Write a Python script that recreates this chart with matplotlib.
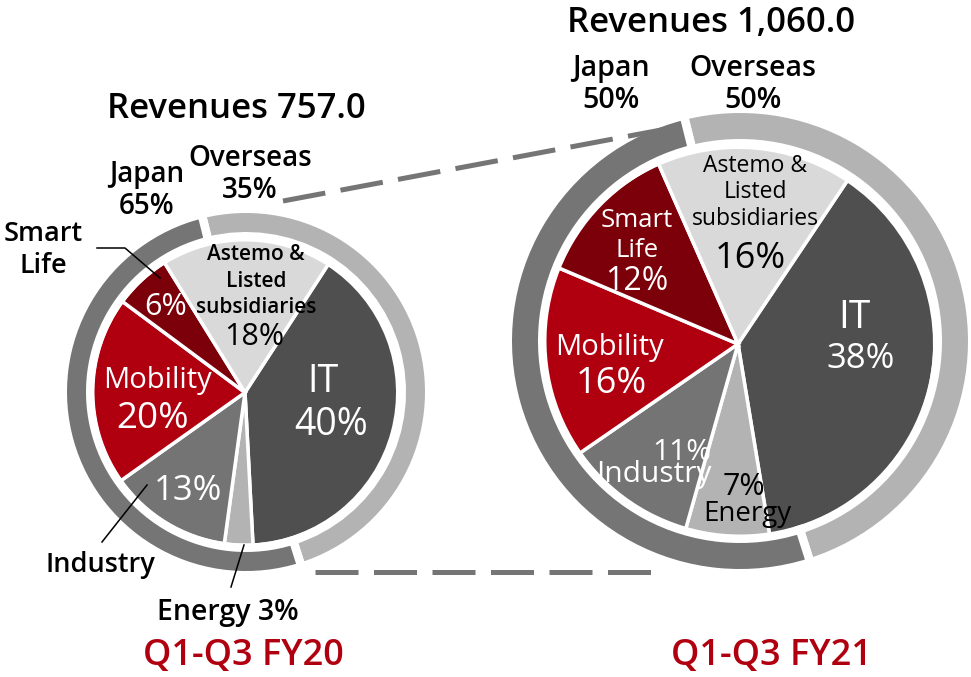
import matplotlib
matplotlib.use("Agg")
import matplotlib.pyplot as plt

# ---------------- data ----------------
segments = ["IT", "Energy", "Industry", "Mobility", "Smart Life", "Astemo & Listed subsidiaries"]
fy20_share = [40, 3, 13, 20, 6, 18]
fy21_share = [38, 7, 11, 16, 12, 16]
fy20_revenue = "757.0"
fy21_revenue = "1,060.0"
region_labels = ["Overseas", "Japan"]
fy20_region = [35, 65]
fy21_region = [50, 50]
# arcs of the outer ring as drawn in the picture (not proportional)
fy20_ring_drawn = [49, 51]
fy21_ring_drawn = [49, 51]
period_labels = ["Q1-Q3 FY20", "Q1-Q3 FY21"]

seg_colors = ["#4f4f4f", "#b3b3b3", "#747474", "#b0000f", "#7b0009", "#d9d9d9"]
ring_colors = ["#b3b3b3", "#757575"]
RED = "#b0000f"
FONT = "Open Sans"

W, H = 971, 677
fig = plt.figure(figsize=(W / 100, H / 100), dpi=100)
ax = fig.add_axes([0, 0, 1, 1])


def Y(y):
    return H - y


PX = 72 / 100  # points per pixel


def draw_chart(shares, ring, pie_c, pie_r, ring_c, ring_out, ring_in, start_deg):
    sep = 3.5  # px white separator
    ax.pie(shares, colors=seg_colors, center=(pie_c[0], Y(pie_c[1])),
           radius=pie_r + sep / 2, startangle=90 - start_deg, counterclock=False,
           wedgeprops=dict(edgecolor="white", linewidth=sep * PX), frame=True)
    gap = 8.5
    ax.pie(ring, colors=ring_colors, center=(ring_c[0], Y(ring_c[1])),
           radius=ring_out + gap / 2, startangle=104, counterclock=False,
           wedgeprops=dict(width=(ring_out - ring_in) + gap, edgecolor="white",
                           linewidth=gap * PX), frame=True)


draw_chart(fy20_share, fy20_ring_drawn, (245, 392.5), 151, (246, 392), 179, 160, 33)
draw_chart(fy21_share, fy21_ring_drawn, (738, 344), 195, (740, 341), 228, 202, 33.8)


def txt(x, y, s, size, color="black", weight="semibold", ls=1.2, ma="center"):
    ax.text(x, Y(y), s, ha="center", va="baseline", fontsize=size, color=color,
            family=[FONT, "DejaVu Sans"], fontweight=weight, zorder=10,
            linespacing=ls, multialignment=ma)


def pct(v):
    return f"{v}%"


# dashed connectors
def dashed(x0, y0, x1, y1):
    lw = 5 * PX
    on, off = 43 * PX / lw, 15.5 * PX / lw
    ax.plot([x0, x1], [Y(y0), Y(y1)], color="#757575", lw=lw,
            linestyle=(0, (on, off)), solid_capstyle="butt", dash_capstyle="butt", zorder=3)


dashed(283, 201, 677, 127)
dashed(315, 572, 652, 572)


# leader lines
def leader(xs, ys):
    ax.plot(xs, [Y(v) for v in ys], color="black", lw=1.1, zorder=9)


leader([97, 125, 160], [248, 248, 278])
leader([102, 147], [542, 485])
leader([231, 244], [587, 545])

IN = "normal"

# ---------- FY20 labels ----------
txt(236, 118, f"Revenues {fy20_revenue}", 25)
txt(147, 182, region_labels[1], 20)
txt(147, 214, pct(fy20_region[1]), 20)
txt(250, 166, region_labels[0], 20)
txt(250, 198, pct(fy20_region[0]), 20)
txt(43, 241, "Smart", 19.5)
txt(43, 273, "Life", 19.5)
txt(256, 260, "Astemo &", 15)
txt(256, 287, "Listed", 15)
txt(256, 313, "subsidiaries", 15)
txt(254, 345, pct(fy20_share[5]), 22, weight=IN)
txt(166, 315, pct(fy20_share[4]), 22, color="white", weight=IN)
txt(157, 388, segments[3], 21, color="white", weight=IN)
txt(153, 428, pct(fy20_share[3]), 26.5, color="white", weight=IN)
txt(323, 392, segments[0], 27, color="white", weight=IN)
txt(331, 435, pct(fy20_share[0]), 27, color="white", weight=IN)
txt(188, 500, pct(fy20_share[2]), 25, color="white", weight=IN)
txt(100, 572, segments[2], 19.5)
txt(228, 620, f"{segments[1]} {pct(fy20_share[1])}", 20.5)
txt(243, 665, period_labels[0], 26, color=RED)

# ---------- FY21 labels ----------
txt(711, 32, f"Revenues {fy21_revenue}", 25)
txt(611, 76, region_labels[1], 20.5)
txt(611, 108, pct(fy21_region[1]), 20.5)
txt(753, 76, region_labels[0], 20.5)
txt(753, 108, pct(fy21_region[0]), 20.5)
txt(755, 172, "Astemo &", 16.5, weight=IN)
txt(755, 198, "Listed", 16.5, weight=IN)
txt(755, 225, "subsidiaries", 16.5, weight=IN)
txt(750, 268, pct(fy21_share[5]), 26, weight=IN)
txt(637, 227, "Smart", 18.5, color="white", weight=IN)
txt(637, 257, "Life", 18.5, color="white", weight=IN)
txt(637, 290, pct(fy21_share[4]), 23, color="white", weight=IN)
txt(609, 355, segments[3], 21, color="white", weight=IN)
txt(611, 393, pct(fy21_share[3]), 26, color="white", weight=IN)
txt(854, 328, segments[0], 28, color="white", weight=IN)
txt(861, 368, pct(fy21_share[0]), 25, color="white", weight=IN)
txt(654, 482, f"{pct(fy21_share[2])}\n{segments[2]}", 21.5, color="white", weight=IN,
    ls=0.68, ma="right")
txt(744, 495, pct(fy21_share[1]), 22, weight=IN)
txt(747, 521, segments[1], 20, weight=IN)
txt(771, 665, period_labels[1], 26, color=RED)

ax.set_xlim(0, W)
ax.set_ylim(0, H)
ax.set_aspect("equal")
ax.axis("off")
fig.savefig("out.png", dpi=100, facecolor="white")
